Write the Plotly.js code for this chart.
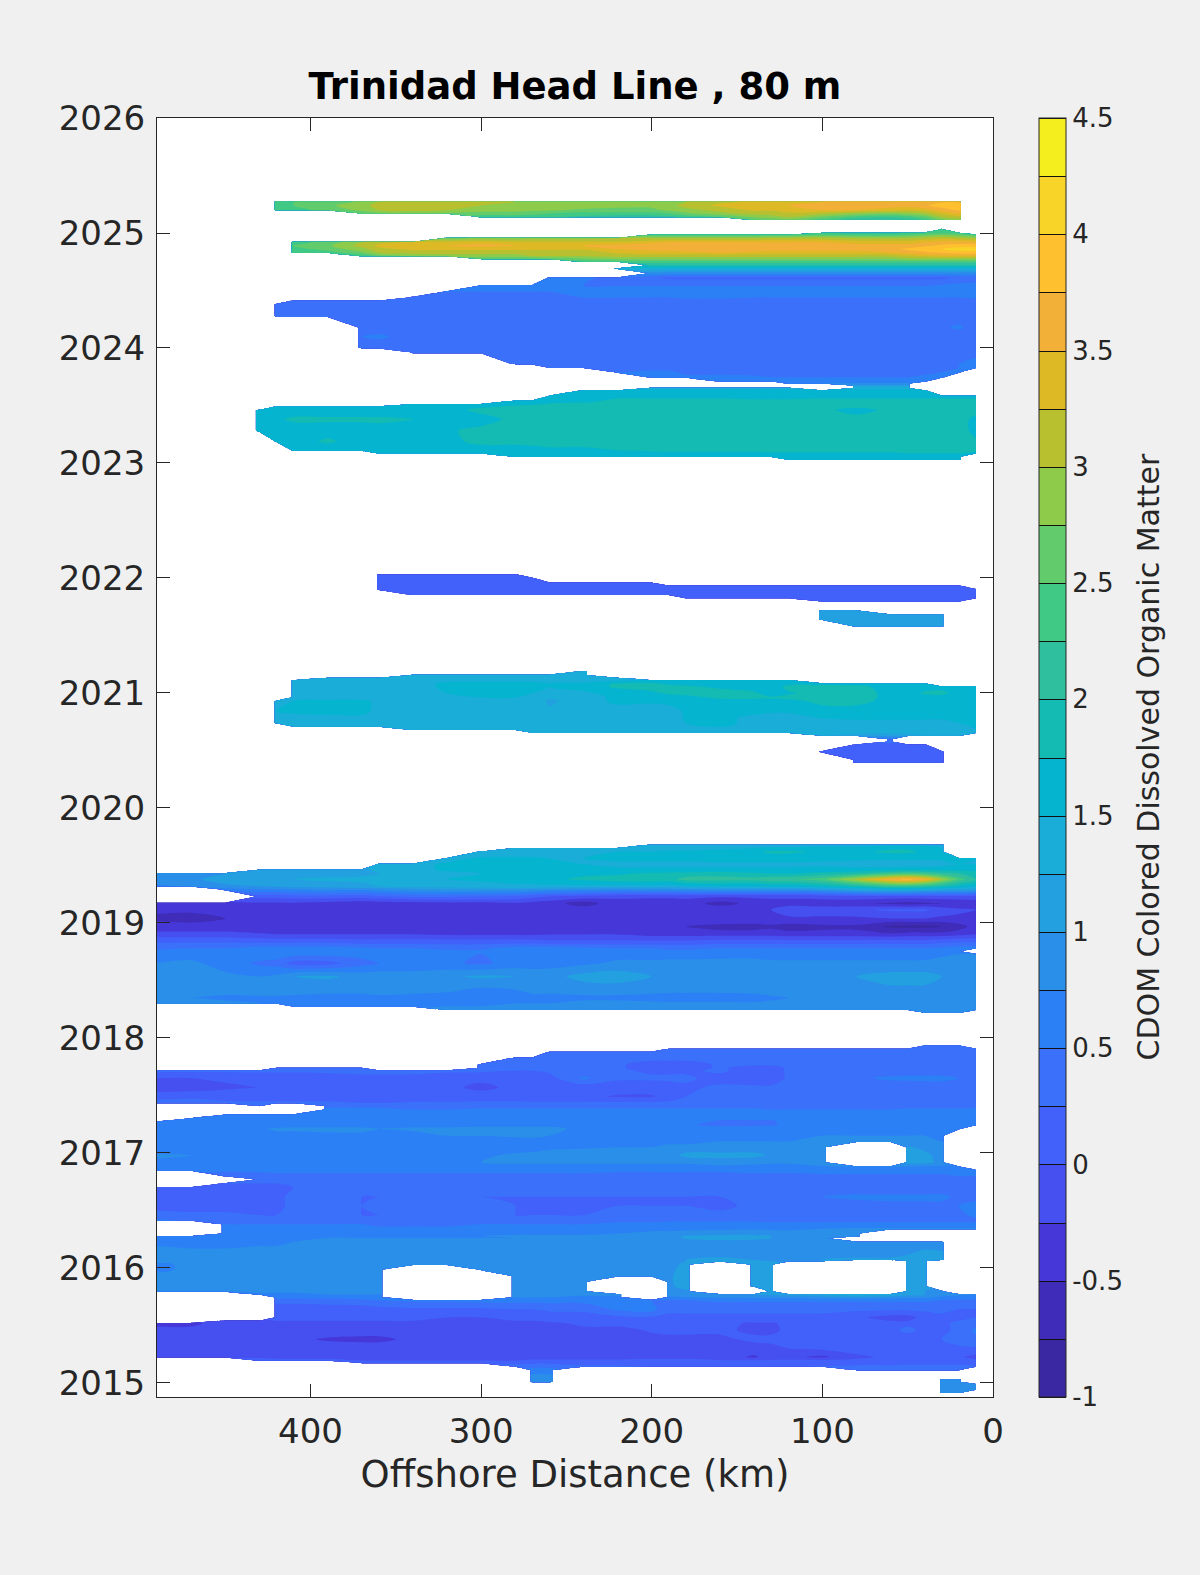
<!DOCTYPE html>
<html><head><meta charset="utf-8">
<script src="https://cdn.plot.ly/plotly-3.0.1.min.js"></script>
<style>html,body{margin:0;padding:0;background:#f0f0f0}</style></head>
<body><div id="chart" style="width:1200px;height:1575px"></div>
<script>
const _ = null;
const titleText = "Trinidad Head Line , 80 m";
const xLabel = "Offshore Distance (km)";
const barLabel = "CDOM Colored Dissolved Organic Matter";
const xTicks = [400,300,200,100,0];
const yTicks = [2015,2016,2017,2018,2019,2020,2021,2022,2023,2024,2025,2026];
const barTicks = [-1,-0.5,0,0.5,1,1.5,2,2.5,3,3.5,4,4.5];
const levelColors = ["#3A27A2","#3F2CB8","#4638D8","#4650F0","#4260FA","#3A70FA","#2C80F5","#2A8FE8","#22A0E0","#1AADD8","#05B4CF","#14BBB2","#2FBF9E","#40C885","#62CC6C","#8ECB4A","#B8C030","#DCB925","#F3B038","#FFC030","#F8D428","#F5EE1E"];
const distance = [490,470,450,430,420,410,390,370, 360,340,320,300,280,270,260,240, 220,200,190,180,160,140,130,120, 100,80,60,50,40,30,20,10];

const yA = [2025.285,2025.272,2025.24,2025.2,2025.17,2025.14,2025.115,2025.1];
const zA = [
[_,_,_,_,_,_,_,_, _,_,_,_,_,_,_,_, _,_,_,_,_,_,_,_, _,_,_,_,_,_,_,_],
[_,_,_,_,2.5,2.5,2.6,2.8, 3,3.1,3.1,3.1,3,2.9,2.8,2.8, 2.8,2.8,2.9,3,3.2,3.3,3.4,3.4, 3.5,3.7,3.7,3.6,3.6,3.7,3.7,_],
[_,_,_,_,2.4,2.5,2.7,2.9, 3.1,3.2,3.2,3,3,3,2.9,2.9, 2.8,2.8,2.9,3.1,3.3,3.4,3.4,3.5, 3.7,3.7,3.6,3.6,3.7,3.9,3.9,_],
[_,_,_,_,2.3,2.4,2.6,2.8, 3,3.1,3,2.9,2.9,2.8,2.8,2.7, 2.7,2.7,2.8,2.9,3.1,3.3,3.3,3.4, 3.5,3.5,3.4,3.3,3.4,3.6,3.8,_],
[_,_,_,_,_,_,_,2.6, 2.7,2.7,2.7,2.6,2.6,2.6,2.5,2.4, 2.4,2.4,2.5,2.7,2.9,3.1,3.1,3.2, 3.1,2.9,2.8,2.9,3,3.3,3.5,_],
[_,_,_,_,_,_,_,_, _,_,_,2.4,2.4,2.3,2.3,2.2, 2.1,2.1,2.2,2.3,2.5,2.8,2.9,3, 2.7,2.4,2.3,2.4,2.6,3,3.2,_],
[_,_,_,_,_,_,_,_, _,_,_,_,_,_,_,_, _,_,_,_,_,2.5,2.6,2.7, 2.4,2.1,2,2.1,2.3,2.7,2.9,_],
[_,_,_,_,_,_,_,_, _,_,_,_,_,_,_,_, _,_,_,_,_,_,_,_, _,_,_,_,_,_,_,_]
];

const yB = [2025.03,2025,2024.985,2024.955,2024.92,2024.89,2024.86,2024.83,2024.8,2024.775,2024.75,2024.72,2024.69,2024.65,2024.61,2024.54,2024.49,2024.44,2024.41,2024.38,2024.28,2024.18,2024.1,2024,2023.965,2023.86,2023.83,2023.79,2023.745,2023.71,2023.69,2023.672,2023.652,2023.63,2023.58,2023.54,2023.51,2023.49,2023.46,2023.38,2023.28,2023.19,2023.11,2023.085,2023.055,2023.03,2023.02];
const zB = [
[_,_,_,_,_,_,_,_, _,_,_,_,_,_,_,_, _,_,_,_,_,_,_,_, _,_,_,_,_,2.3,_,_],
[_,_,_,_,_,_,_,_, _,_,_,_,_,_,_,_, _,_,_,_,_,_,_,_, 2.3,2.2,2.2,2.3,2.4,2.4,2.4,_],
[_,_,_,_,_,_,_,_, _,_,_,_,_,_,_,_, _,2.4,2.4,2.4,2.4,2.4,2.4,2.4, 2.5,2.4,2.4,2.5,2.6,2.7,2.6,2.4],
[_,_,_,_,_,_,_,_, _,_,2.7,2.8,2.8,2.9,2.9,2.9, 3,3,3,3,3,3,3.1,3.1, 3.1,3,3,3,3.1,3.2,3.1,3],
[_,_,_,_,_,2.4,2.6,3, 3.2,3.3,3.3,3.4,3.3,3.3,3.3,3.3, 3.3,3.4,3.5,3.5,3.5,3.5,3.5,3.5, 3.5,3.4,3.4,3.4,3.5,3.6,3.6,3.5],
[_,_,_,_,_,2.5,2.7,3.1, 3.3,3.4,3.5,3.6,3.5,3.4,3.4,3.5, 3.6,3.7,3.7,3.7,3.7,3.7,3.7,3.7, 3.7,3.6,3.6,3.6,3.7,3.8,3.9,3.9],
[_,_,_,_,_,2.4,2.6,2.9, 3.2,3.3,3.3,3.3,3.3,3.3,3.3,3.3, 3.5,3.6,3.6,3.7,3.7,3.7,3.6,3.6, 3.6,3.6,3.7,3.8,3.9,4,4.1,4.1],
[_,_,_,_,_,2.3,2.4,2.7, 3,3.1,3.1,3.1,3.1,3.1,3.1,3.1, 3.3,3.4,3.4,3.4,3.5,3.4,3.4,3.4, 3.4,3.4,3.5,3.6,3.7,3.8,3.9,3.9],
[_,_,_,_,_,_,_,2.3, 2.6,2.8,2.9,2.9,2.9,3,3,3, 3.1,3.1,3.1,3.1,3.1,3.1,3.1,3.1, 3.1,3.1,3.1,3.2,3.3,3.4,3.4,3.4],
[_,_,_,_,_,_,_,_, _,_,_,2.5,2.5,2.5,2.6,2.7, 2.8,2.8,2.8,2.8,2.8,2.8,2.8,2.8, 2.8,2.8,2.8,2.9,2.9,2.9,2.9,2.9],
[_,_,_,_,_,_,_,_, _,_,_,_,_,_,_,2.3, 2.4,2.4,2.4,2.4,2.4,2.4,2.4,2.4, 2.4,2.4,2.4,2.4,2.4,2.4,2.4,2.4],
[_,_,_,_,_,_,_,_, _,_,_,_,_,_,_,_, _,2,2,2,2,2,2,2, 2,2,2,2,2,2,2,2],
[_,_,_,_,_,_,_,_, _,_,_,_,_,_,_,_, 1.4,1.4,1.4,1.4,1.4,1.4,1.4,1.4, 1.4,1.4,1.4,1.4,1.4,1.4,1.4,1.4],
[_,_,_,_,_,_,_,_, _,_,_,_,_,_,_,_, _,.85,.8,.8,.8,.8,.8,.8, .8,.8,.8,.8,.8,.8,.8,.8],
[_,_,_,_,_,_,_,_, _,_,_,_,_,_,.6,.55, .4,.3,.2,.2,.2,.2,.2,.2, .2,.2,.2,.2,.2,.2,.3,.35],
[_,_,_,_,_,_,_,_, _,_,_,.55,.55,.55,.55,.5, .5,.5,.5,.5,.5,.5,.5,.5, .5,.5,.5,.5,.5,.55,.6,.6],
[_,_,_,_,_,_,_,_, _,_,.5,.5,.5,.5,.5,.55, .55,.55,.55,.55,.55,.55,.55,.55, .55,.55,.55,.55,.6,.65,.7,.7],
[_,_,_,_,_,_,_,_, _,.4,.4,.4,.45,.45,.5,.5, .5,.5,.5,.55,.55,.5,.5,.5, .5,.5,.5,.5,.5,.5,.5,.55],
[_,_,_,_,_,.3,.3,.3, .35,.35,.35,.35,.35,.35,.35,.35, .4,.4,.4,.4,.4,.4,.4,.4, .4,.4,.4,.4,.4,.4,.4,.4],
[_,_,_,_,.3,.3,.3,.3, .35,.35,.35,.35,.35,.35,.35,.35, .35,.35,.35,.35,.35,.35,.35,.35, .35,.35,.35,.35,.35,.35,.35,.35],
[_,_,_,_,.35,.35,.35,.35, .35,.35,.35,.35,.35,.35,.35,.35, .35,.35,.35,.35,.35,.35,.35,.35, .35,.35,.35,.35,.35,.35,.35,.35],
[_,_,_,_,_,_,_,.4, .35,.35,.35,.35,.35,.35,.35,.35, .35,.35,.35,.35,.35,.35,.35,.35, .35,.35,.35,.35,.35,.45,.55,.35],
[_,_,_,_,_,_,_,.5, .55,.4,.35,.35,.35,.35,.35,.35, .35,.35,.35,.35,.35,.35,.35,.35, .35,.35,.35,.35,.35,.35,.35,.35],
[_,_,_,_,_,_,_,.4, .35,.35,.35,.35,.35,.35,.35,.35, .35,.35,.35,.35,.35,.35,.35,.35, .35,.35,.35,.35,.35,.35,.35,.35],
[_,_,_,_,_,_,_,_, _,.35,.35,.35,.35,.35,.35,.35, .35,.35,.35,.35,.35,.35,.35,.35, .35,.35,.35,.35,.35,.4,.4,.45],
[_,_,_,_,_,_,_,_, _,_,_,_,.45,.4,.35,.35, .35,.35,.35,.35,.35,.35,.35,.35, .35,.35,.35,.35,.35,.4,.5,.55],
[_,_,_,_,_,_,_,_, _,_,_,_,_,_,.5,.45, .4,.4,.4,.4,.4,.35,.35,.35, .35,.35,.35,.35,.4,.45,.5,.55],
[_,_,_,_,_,_,_,_, _,_,_,_,_,_,_,_, .5,.55,.55,.45,.45,.4,.4,.4, .4,.4,.4,.4,.45,.5,.55,_],
[_,_,_,_,_,_,_,_, _,_,_,_,_,_,_,_, _,.55,.55,.55,.55,.55,.5,.5, .5,.5,.5,.5,.55,.6,_,_],
[_,_,_,_,_,_,_,_, _,_,_,_,_,_,_,_, _,_,_,_,.6,.6,.6,.6, .6,.6,.6,.6,.65,_,_,_],
[_,_,_,_,_,_,_,_, _,_,_,_,_,_,_,_, _,_,_,_,_,_,_,.7, .75,.8,.8,.8,_,_,_,_],
[_,_,_,_,_,_,_,_, _,_,_,_,_,_,_,_, _,_,_,_,_,_,_,_, _,1.1,1.1,1.1,_,_,_,_],
[_,_,_,_,_,_,_,_, _,_,_,_,_,_,_,_, _,1.4,1.4,1.4,1.4,1.4,1.4,1.4, _,1.4,1.4,1.4,_,_,_,_],
[_,_,_,_,_,_,_,_, _,_,_,_,_,_,_,1.5, 1.6,1.6,1.6,1.6,1.6,1.6,1.6,1.6, 1.6,1.6,1.6,1.6,1.6,_,_,_],
[_,_,_,_,_,_,_,_, _,_,_,_,_,_,1.55,1.6, 1.7,1.7,1.7,1.7,1.7,1.65,1.65,1.65, 1.7,1.7,1.7,1.7,1.7,1.7,1.7,1.7],
[_,_,_,_,_,_,_,_, _,_,_,_,1.55,1.6,1.6,1.7, 1.8,1.8,1.8,1.8,1.8,1.8,1.8,1.8, 1.8,1.8,1.8,1.8,1.8,1.8,1.8,1.8],
[_,_,_,_,_,_,_,_, _,1.55,1.55,1.6,1.7,1.7,1.8,1.8, 1.85,1.85,1.85,1.85,1.85,1.85,1.85,1.85, 1.85,1.85,1.85,1.85,1.85,1.85,1.9,1.9],
[_,_,_,_,1.55,1.55,1.55,1.55, 1.55,1.6,1.6,1.7,1.8,1.85,1.85,1.85, 1.85,1.85,1.85,1.85,1.85,1.85,1.85,1.85, 1.85,1.85,1.9,1.9,1.9,1.9,1.9,1.9],
[_,_,_,1.55,1.55,1.6,1.6,1.6, 1.6,1.6,1.6,1.85,1.85,1.85,1.85,1.85, 1.9,1.9,1.9,1.9,1.9,1.9,1.9,1.9, 1.85,1.6,1.85,1.9,1.9,1.9,2,1.9],
[_,_,_,1.6,1.7,1.8,1.8,1.8, 1.8,1.75,1.6,1.6,1.85,1.85,1.85,1.85, 1.9,1.9,1.9,1.9,1.9,1.9,1.9,1.9, 1.9,1.9,1.9,1.9,1.9,1.9,1.9,1.65],
[_,_,_,1.6,1.6,1.6,1.6,1.6, 1.65,1.65,1.7,1.85,1.85,1.9,1.9,1.9, 1.9,1.9,1.9,1.9,1.9,1.9,1.9,1.9, 1.9,1.9,1.9,1.9,1.9,1.9,1.9,1.65],
[_,_,_,_,1.6,1.6,1.8,1.6, 1.6,1.6,1.65,1.85,1.85,1.85,1.85,1.85, 1.85,1.85,1.9,1.9,1.9,1.9,1.9,1.9, 1.9,1.9,1.9,1.9,1.9,1.9,1.9,1.8],
[_,_,_,_,_,1.6,1.6,1.6, 1.6,1.6,1.6,1.6,1.6,1.65,1.7,1.7, 1.75,1.8,1.8,1.8,1.8,1.8,1.85,1.85, 1.85,1.85,1.85,1.85,1.85,1.85,1.85,1.8],
[_,_,_,_,_,_,_,_, 1.6,1.6,1.6,1.6,1.6,1.6,1.65,1.65, 1.65,1.65,1.7,1.7,1.7,1.7,1.7,1.7, 1.7,1.7,1.7,1.75,1.75,1.75,1.75,1.7],
[_,_,_,_,_,_,_,_, _,_,_,_,1.6,1.6,1.6,1.6, 1.6,1.6,1.6,1.6,1.6,1.6,1.6,1.6, 1.6,1.6,1.6,1.6,1.6,1.6,1.6,_],
[_,_,_,_,_,_,_,_, _,_,_,_,_,_,_,_, _,_,_,_,_,_,_,1.6, 1.6,1.6,1.6,1.6,1.6,1.6,1.6,_],
[_,_,_,_,_,_,_,_, _,_,_,_,_,_,_,_, _,_,_,_,_,_,_,_, _,_,_,_,_,_,_,_]
];

const yC = [2022.04,2022.03,2022,2021.957,2021.933,2021.9,2021.855,2021.826,2021.797,2021.76,2021.715,2021.68,2021.64,2021.58,2021.57];
const zC = [
[_,_,_,_,_,_,_,_, _,_,_,_,_,_,_,_, _,_,_,_,_,_,_,_, _,_,_,_,_,_,_,_],
[_,_,_,_,_,_,_,_, .05,.05,.05,.05,.05,_,_,_, _,_,_,_,_,_,_,_, _,_,_,_,_,_,_,_],
[_,_,_,_,_,_,_,_, .05,.05,.05,.05,.05,.05,_,_, _,_,_,_,_,_,_,_, _,_,_,_,_,_,_,_],
[_,_,_,_,_,_,_,_, .05,.05,.05,.05,.05,.05,.05,.05, .05,.05,_,_,_,_,_,_, _,_,_,_,_,_,_,_],
[_,_,_,_,_,_,_,_, .05,.05,.05,.05,.05,.05,.05,.05, .05,.05,.05,.05,.05,.05,.05,.05, .05,.05,.05,.05,.05,.05,.05,_],
[_,_,_,_,_,_,_,_, .05,.05,.05,.05,.05,.05,.05,.05, .05,.05,.05,.05,.05,.05,.05,.05, .05,.1,.1,.05,.05,.05,.05,.05],
[_,_,_,_,_,_,_,_, _,.05,.05,.05,.05,.05,.05,.05, .05,.05,.05,.05,.05,.05,.05,.05, .05,.1,.1,.05,.05,.05,.05,.05],
[_,_,_,_,_,_,_,_, _,_,_,_,_,_,_,_, _,_,_,.05,.05,.05,.05,.05, .05,.05,.05,.05,.05,.05,.05,.05],
[_,_,_,_,_,_,_,_, _,_,_,_,_,_,_,_, _,_,_,_,_,_,_,_, .05,.05,.05,.05,.05,.05,.05,_],
[_,_,_,_,_,_,_,_, _,_,_,_,_,_,_,_, _,_,_,_,_,_,_,_, _,_,_,_,_,_,_,_],
[_,_,_,_,_,_,_,_, _,_,_,_,_,_,_,_, _,_,_,_,_,_,_,_, 1.15,1.15,_,_,_,_,_,_],
[_,_,_,_,_,_,_,_, _,_,_,_,_,_,_,_, _,_,_,_,_,_,_,_, 1.15,1.15,1.15,1.15,1.15,1.15,_,_],
[_,_,_,_,_,_,_,_, _,_,_,_,_,_,_,_, _,_,_,_,_,_,_,_, 1.15,1.15,1.15,1.15,1.15,1.15,_,_],
[_,_,_,_,_,_,_,_, _,_,_,_,_,_,_,_, _,_,_,_,_,_,_,_, _,1.15,1.15,1.15,1.15,1.15,_,_],
[_,_,_,_,_,_,_,_, _,_,_,_,_,_,_,_, _,_,_,_,_,_,_,_, _,_,_,_,_,_,_,_]
];

const yD = [2021.2,2021.188,2021.155,2021.13,2021.11,2021.08,2021.055,2021,2020.96,2020.93,2020.84,2020.78,2020.74,2020.71,2020.68,2020.655,2020.63,2020.6,2020.575,2020.55,2020.49,2020.42,2020.395,2020.38];
const zD = [
[_,_,_,_,_,_,_,_, _,_,_,_,_,_,_,_, _,_,_,_,_,_,_,_, _,_,_,_,_,_,_,_],
[_,_,_,_,_,_,_,_, _,_,_,_,_,_,_,1.3, _,_,_,_,_,_,_,_, _,_,_,_,_,_,_,_],
[_,_,_,_,_,_,_,_, _,1.3,1.3,1.3,1.3,1.3,1.3,1.3, _,_,_,_,_,_,_,_, _,_,_,_,_,_,_,_],
[_,_,_,_,_,_,1.3,1.3, 1.3,1.35,1.35,1.35,1.35,1.35,1.35,1.35, 1.35,_,_,_,_,_,_,_, _,_,_,_,_,_,_,_],
[_,_,_,_,_,1.3,1.3,1.3, 1.3,1.4,1.45,1.45,1.45,1.45,1.4,1.4, 1.45,1.55,1.55,1.55,1.55,1.55,1.55,1.55, _,_,_,_,_,_,_,_],
[_,_,_,_,_,1.3,1.3,1.3, 1.3,1.4,1.55,1.6,1.6,1.55,1.5,1.55, 1.8,1.8,1.7,1.65,1.65,1.6,1.6,1.65, 1.65,1.6,1.6,1.6,1.6,_,_,_],
[_,_,_,_,_,1.35,1.35,1.35, 1.35,1.4,1.55,1.6,1.6,1.55,1.5,1.6, 1.8,1.85,1.85,1.8,1.7,1.6,1.55,1.85, 1.9,1.85,1.6,1.6,1.6,1.6,1.6,1.6],
[_,_,_,_,_,1.35,1.35,1.35, 1.35,1.4,1.5,1.55,1.6,1.5,1.4,1.45, 1.6,1.7,1.8,1.85,1.85,1.8,1.55,1.7, 1.9,1.9,1.65,1.6,1.8,1.85,1.6,1.6],
[_,_,_,_,_,1.4,1.4,1.4, 1.4,1.4,1.45,1.5,1.5,1.4,1.3,1.4, 1.55,1.6,1.6,1.65,1.8,1.85,1.8,1.85, 1.9,1.9,1.65,1.6,1.6,1.6,1.6,1.6],
[_,_,_,_,1.4,1.5,1.55,1.55, 1.45,1.4,1.4,1.45,1.5,1.45,1.2,1.4, 1.55,1.55,1.6,1.65,1.65,1.6,1.6,1.65, 1.85,1.85,1.65,1.6,1.6,1.6,1.6,1.6],
[_,_,_,_,1.5,1.55,1.6,1.6, 1.4,1.4,1.4,1.4,1.45,1.4,1.3,1.35, 1.4,1.35,1.35,1.55,1.55,1.55,1.55,1.55, 1.6,1.6,1.6,1.6,1.6,1.6,1.6,1.6],
[_,_,_,_,1.4,1.4,1.4,1.4, 1.4,1.35,1.35,1.35,1.35,1.3,1.3,1.3, 1.3,1.25,1.25,1.55,1.55,1.45,1.35,1.35, 1.5,1.55,1.55,1.55,1.55,1.55,1.6,1.6],
[_,_,_,_,1.3,1.3,1.3,1.3, 1.3,1.3,1.3,1.3,1.3,1.3,1.3,1.3, 1.3,1.3,1.3,1.5,1.6,1.4,1.3,1.3, 1.35,1.4,1.4,1.4,1.35,1.35,1.5,1.6],
[_,_,_,_,_,1.3,1.3,1.3, 1.3,1.3,1.3,1.3,1.3,1.3,1.3,1.3, 1.3,1.3,1.3,1.45,1.55,1.35,1.3,1.3, 1.3,1.3,1.3,1.3,1.3,1.3,1.4,1.55],
[_,_,_,_,_,_,_,_, _,1.3,1.3,1.3,1.3,1.3,1.3,1.3, 1.3,1.3,1.3,1.3,1.3,1.3,1.3,1.3, 1.3,1.3,1.3,1.3,1.3,1.3,1.4,1.5],
[_,_,_,_,_,_,_,_, _,_,_,_,_,1.3,1.3,1.3, 1.3,1.3,1.3,1.3,1.3,1.3,1.3,1.3, 1.3,1.3,1.3,1.3,1.3,1.3,1.3,1.4],
[_,_,_,_,_,_,_,_, _,_,_,_,_,_,_,_, _,_,_,_,_,_,_,_, 1.25,1.2,1.1,1.2,1.25,1.25,1.25,_],
[_,_,_,_,_,_,_,_, _,_,_,_,_,_,_,_, _,_,_,_,_,_,_,_, _,_,.5,_,_,_,_,_],
[_,_,_,_,_,_,_,_, _,_,_,_,_,_,_,_, _,_,_,_,_,_,_,_, _,_,.4,_,_,_,_,_],
[_,_,_,_,_,_,_,_, _,_,_,_,_,_,_,_, _,_,_,_,_,_,_,_, _,.1,.1,.1,.1,_,_,_],
[_,_,_,_,_,_,_,_, _,_,_,_,_,_,_,_, _,_,_,_,_,_,_,_, .1,.05,.05,.05,.05,.1,_,_],
[_,_,_,_,_,_,_,_, _,_,_,_,_,_,_,_, _,_,_,_,_,_,_,_, _,.05,.05,.05,.05,.1,_,_],
[_,_,_,_,_,_,_,_, _,_,_,_,_,_,_,_, _,_,_,_,_,_,_,_, _,.05,.05,.05,.1,.1,_,_],
[_,_,_,_,_,_,_,_, _,_,_,_,_,_,_,_, _,_,_,_,_,_,_,_, _,_,_,_,_,_,_,_]
];

const yE = [2019.69,2019.68,2019.65,2019.62,2019.56,2019.51,2019.46,2019.43,2019.38,2019.32,2019.29,2019.23,2019.17,2019.115,2019.04,2018.97,2018.91,2018.84,2018.78,2018.755,2018.73,2018.65,2018.535,2018.42,2018.35,2018.3,2018.275,2018.245,2018.22,2018.21];
const zE = [
[_,_,_,_,_,_,_,_, _,_,_,_,_,_,_,_, _,_,_,_,_,_,_,_, _,_,_,_,_,_,_,_],
[_,_,_,_,_,_,_,_, _,_,_,_,_,_,_,_, _,1.3,1.3,1.3,1.3,1.35,1.4,1.4, 1.4,1.4,1.45,1.45,1.4,1.3,_,_],
[_,_,_,_,_,_,_,_, _,_,_,_,1.3,1.3,1.3,1.35, 1.4,1.4,1.4,1.4,1.45,1.5,1.55,1.55, 1.6,1.6,1.7,1.7,1.7,1.5,_,_],
[_,_,_,_,_,_,_,_, _,_,_,1.3,1.35,1.35,1.4,1.4, 1.5,1.5,1.55,1.55,1.6,1.7,1.8,1.8, 1.7,1.7,1.8,1.8,1.7,1.5,_,_],
[_,_,_,_,_,_,_,_, _,_,1.4,1.55,1.55,1.55,1.5,1.5, 1.55,1.55,1.55,1.55,1.6,1.6,1.6,1.6, 1.55,1.55,1.55,1.55,1.55,1.55,1.55,1.5],
[_,_,_,_,_,_,_,_, 1.3,1.4,1.55,1.6,1.6,1.6,1.6,1.5, 1.45,1.45,1.45,1.45,1.45,1.45,1.45,1.45, 1.45,1.4,1.35,1.35,1.35,1.4,1.5,1.5],
[_,_,_,1.1,1.15,1.15,1.15,1.2, 1.3,1.4,1.55,1.6,1.6,1.6,1.6,1.6, 1.55,1.55,1.55,1.55,1.55,1.55,1.55,1.55, 1.6,1.6,1.65,1.7,1.7,1.7,1.7,1.7],
[1,1,1,1.05,1.1,1.15,1.15,1.2, 1.25,1.3,1.4,1.5,1.55,1.55,1.6,1.7, 1.7,1.8,1.85,1.85,1.9,1.8,1.75,1.75, 1.85,2,2.3,2.4,2.3,2.1,2,1.9],
[.9,.95,1.1,1.15,1.2,1.25,1.3,1.3, 1.35,1.45,1.5,1.55,1.6,1.6,1.7,1.8, 1.9,1.9,1.9,2.1,2.1,2.1,2.2,2.2, 2.4,3.1,3.7,3.85,3.6,3,2.4,2],
[.7,.8,.95,1,1.05,1.1,1.15,1.2, 1.25,1.35,1.35,1.4,1.45,1.45,1.45,1.45, 1.4,1.45,1.4,1.5,1.55,1.55,1.6,1.6, 1.7,1.9,2.2,2.2,2.1,1.9,1.7,1.6],
[_,_,.6,.7,.7,.75,.8,.8, .85,.95,1,1,1,.95,.9,.85, .8,.85,.85,.9,.95,.95,.95,.95, 1.05,1.25,1.4,1.4,1.3,1.2,1.2,1.1],
[_,_,_,.1,.1,.15,.15,.1, .2,.3,.3,.25,.2,.1,0,-.1, -.2,-.2,-.2,-.2,-.2,-.2,-.2,-.2, -.15,-.1,-.1,-.1,-.1,-.1,-.1,-.1],
[-.3,-.35,-.35,-.3,-.3,-.3,-.35,-.4, -.4,-.4,-.35,-.35,-.3,-.35,-.4,-.62, -.35,-.4,-.4,-.35,-.62,-.4,-.35,-.35, -.4,-.45,-.55,-.6,-.55,-.5,-.45,-.4],
[-.45,-.45,-.45,-.4,-.4,-.4,-.4,-.45, -.45,-.45,-.45,-.45,-.45,-.45,-.45,-.35, -.3,-.3,-.3,-.3,-.3,-.3,-.25,-.1, -.1,-.05,.05,.05,.05,-.1,-.2,-.25],
[-.55,-.6,-.5,-.45,-.45,-.45,-.45,-.45, -.45,-.45,-.45,-.45,-.45,-.45,-.45,-.45, -.35,-.25,-.25,-.25,-.25,-.3,-.3,-.3, -.3,-.3,-.25,-.25,-.25,-.3,-.3,-.3],
[-.4,-.4,-.4,-.4,-.4,-.45,-.45,-.45, -.45,-.45,-.45,-.45,-.45,-.45,-.45,-.45, -.4,-.45,-.45,-.5,-.6,-.6,-.55,-.6, -.55,-.55,-.8,-.82,-.82,-.75,-.6,-.4],
[-.2,-.2,-.2,-.25,-.3,-.3,-.3,-.3, -.3,-.3,-.35,-.35,-.35,-.35,-.3,-.3, -.3,-.4,-.4,-.4,-.4,-.4,-.4,-.45, -.45,-.45,-.5,-.45,-.45,-.45,-.4,-.3],
[.2,.2,.2,.15,.15,.15,.15,.1, .1,.1,.1,.1,.1,.1,.05,.05, .05,.05,.05,.05,.1,.1,.1,.1, .1,.1,.1,.1,.1,.15,.2,.2],
[.45,.5,.5,.6,.6,.6,.6,.55, .5,.5,.45,.45,.6,.6,.6,.55, .5,.5,.45,.45,.5,.5,.5,.5, .5,.5,.5,.5,.5,.55,.6,.65],
[.55,.6,.6,.75,.75,.75,.75,.7, .6,.6,.55,.55,.75,.75,.75,.7, .6,.6,.55,.55,.6,.6,.6,.6, .6,.6,.6,.6,.6,.7,.75,_],
[.6,.65,.6,.65,.65,.6,.6,.6, .55,.6,.55,.5,.7,.7,.7,.7, .65,.65,.6,.6,.65,.65,.65,.65, .65,.65,.65,.65,.65,.7,.75,.75],
[.75,.8,.65,.45,.4,.15,.15,.4, .5,.6,.55,.45,.6,.6,.65,.7, .8,.8,.85,.85,.85,.85,.8,.8, .8,.8,.8,.8,.8,.85,.85,.8],
[.95,.9,.8,.75,.8,1,1.05,.9, .9,.85,.95,1.05,1,.95,.9,1.1, 1.15,1,.9,.9,.9,1,1,.95, .95,1,1.1,1.1,1.1,1,.95,.9],
[.8,.85,.85,.9,.9,.85,.8,.8, .85,.85,.8,.7,.75,.8,.8,.85, .85,.85,.85,.85,.85,.9,.9,.9, .9,.95,.95,.95,.95,.9,.9,.85],
[.75,.75,.7,.7,.7,.7,.7,.7, .7,.65,.65,.6,.55,.7,.7,.7, .7,.65,.6,.6,.6,.6,.7,.75, .8,.8,.8,.8,.8,.8,.8,.8],
[.8,.8,.8,.75,.75,.75,.75,.75, .75,.75,.75,.75,.75,.75,.75,.8, .8,.8,.8,.8,.8,.8,.8,.8, .8,.8,.8,.8,.8,.8,.8,.8],
[_,_,_,_,_,.75,.75,.75, .75,.75,.75,.75,.8,.8,.8,.8, .8,.8,.8,.8,.8,.8,.8,.8, .8,.8,.8,.8,.8,.8,.8,.8],
[_,_,_,_,_,_,_,_, _,_,.8,.8,.8,.8,.8,.8, .8,.8,.8,.8,.8,.8,.8,.8, .8,.8,.8,.8,.8,.8,.8,.8],
[_,_,_,_,_,_,_,_, _,_,_,_,_,_,_,_, _,_,_,_,_,_,_,_, _,_,_,_,.8,.8,.8,_],
[_,_,_,_,_,_,_,_, _,_,_,_,_,_,_,_, _,_,_,_,_,_,_,_, _,_,_,_,_,_,_,_]
];

const yF = [2017.945,2017.933,2017.904,2017.878,2017.826,2017.768,2017.739,2017.716,2017.65,2017.57,2017.49,2017.435,2017.41,2017.377,2017.33,2017.3,2017.27,2017.245,2017.21,2017.15,2017.1,2017.05,2016.98,2016.92,2016.88,2016.85,2016.8,2016.77,2016.735,2016.7,2016.62,2016.54,2016.46,2016.414,2016.38,2016.34,2016.3,2016.275,2016.26,2016.225,2016.19,2016.13,2016.07,2016.06,2016.03,2015.986,2015.93,2015.88,2015.84,2015.797,2015.77,2015.745,2015.72,2015.64,2015.57,2015.54,2015.52,2015.46,2015.38,2015.3,2015.225,2015.195,2015.175,2015.145,2015.115,2015.06,2015.03,2015.008,2014.99,2014.945,2014.915,2014.9];
const zF = [
[_,_,_,_,_,_,_,_, _,_,_,_,_,_,_,_, _,_,_,_,_,_,_,_, _,_,_,_,_,_,_,_],
[_,_,_,_,_,_,_,_, _,_,_,_,_,_,_,_, _,_,_,_,_,_,_,_, _,_,_,_,.5,.5,.5,_],
[_,_,_,_,_,_,_,_, _,_,_,_,_,_,_,_, _,_,.45,.45,.45,.45,.45,.45, .45,.45,.45,.45,.5,.5,.5,.5],
[_,_,_,_,_,_,_,_, _,_,_,_,_,_,.45,.4, .4,.4,.4,.4,.4,.4,.4,.4, .4,.4,.4,.4,.45,.45,.45,.45],
[_,_,_,_,_,_,_,_, _,_,_,_,.4,.4,.4,.4, .35,.35,.35,.35,.35,.3,.3,.35, .35,.35,.35,.35,.35,.35,.35,.35],
[_,_,_,_,_,_,_,_, _,_,_,.4,.35,.35,.35,.35, .3,.1,.1,.1,.3,.3,.3,.3, .35,.35,.35,.35,.35,.35,.35,.35],
[_,_,_,_,.4,.4,.4,.4, _,_,_,.3,.3,.3,.3,.3, .3,.1,.1,.1,.3,.1,.1,.3, .35,.35,.35,.35,.35,.35,.35,.35],
[.3,.3,.3,.3,.3,.3,.3,.3, .3,.3,.3,.3,.25,.25,.3,.3, .3,.2,.2,.2,.3,.1,.1,.3, .35,.35,.35,.4,.4,.4,.4,.4],
[0,0,.05,.1,.1,.1,.15,.2, .2,.2,.1,.05,.05,.1,.15,.55, .3,.3,.3,.3,.15,.1,.1,.3, .35,.45,.55,.55,.55,.55,.5,.5],
[-.15,-.15,-.05,0,0,0,.05,.05, .05,.05,.05,-.05,.05,.05,.05,.1, .1,.1,.15,.2,.3,.3,.3,.35, .35,.35,.35,.35,.4,.4,.45,.45],
[.15,.2,.15,.1,.1,.1,.1,.05, .05,0,.05,.1,.1,.05,.05,.05, -.02,-.02,.1,.25,.3,.3,.3,.3, .3,.3,.3,.3,.35,.35,.35,.35],
[.35,.35,.3,.3,.3,.3,.3,.25, .25,.3,.3,.3,.3,.3,.3,.3, .3,.3,.3,.3,.3,.3,.3,.3, .3,.3,.3,.3,.35,.35,.35,.35],
[_,_,_,.4,_,_,.45,.45, .45,.4,.4,.4,.4,.4,.4,.4, .4,.4,.4,.4,.4,.4,.4,.4, .4,.4,.4,.4,.4,.4,.4,.45],
[_,_,_,_,_,_,.55,.55, .55,.5,.5,.55,.55,.55,.55,.55, .55,.55,.55,.55,.55,.55,.5,.5, .5,.5,.5,.55,.55,.55,.55,.55],
[_,_,.55,.55,.55,.55,.55,.55, .55,.6,.6,.65,.65,.65,.65,.65, .65,.65,.65,.65,.6,.6,.6,.6, .6,.6,.6,.6,.6,.6,.6,.6],
[_,.55,.55,.55,.55,.55,.55,.55, .6,.6,.6,.65,.65,.65,.65,.65, .65,.65,.65,.65,.55,.55,.55,.6, .6,.6,.6,.6,.6,.6,.6,.6],
[.6,.6,.6,.6,.6,.6,.6,.6, .6,.6,.6,.65,.65,.65,.65,.65, .65,.65,.65,.6,.45,.45,.45,.6, .6,.65,.65,.65,.65,.65,.65,.65],
[.6,.55,.55,.6,.6,.65,.65,.65, .65,.65,.65,.7,.7,.7,.7,.7, .7,.7,.7,.55,.4,.4,.45,.6, .65,.7,.7,.7,.7,.7,.7,.7],
[.6,.6,.6,.7,.8,.8,.8,.8, .75,.8,.8,.8,.8,.8,.8,.7, .6,.6,.65,.7,.7,.7,.7,.7, .7,.7,.7,.7,.7,.7,.7,_],
[.6,.6,.6,.65,.65,.65,.7,.7, .75,.65,.75,.75,.8,.8,.75,.55, .65,.7,.55,.55,.7,.7,.7,.7, .75,.75,.75,.75,.75,.75,_,_],
[.55,.55,.55,.55,.55,.5,.6,.55, .6,.6,.55,.6,.6,.65,.6,.7, .7,.7,.7,.7,.75,.75,.75,.75, .8,.85,.85,.85,.8,.75,_,_],
[.55,.6,.55,.5,.6,.65,.6,.6, .55,.6,.55,.6,.6,.6,.7,.7, .75,.75,.8,.8,.8,.8,.8,.8, .9,_,_,1,.9,.8,_,_],
[.8,.75,.75,.75,.65,.65,.55,.65, .65,.6,.6,.7,.8,.85,.85,.95, 1,.85,.85,1.1,1.1,1.1,.95,.85, 1,_,_,1.1,1.1,.85,_,_],
[.7,.7,.7,.7,.7,.7,.7,.7, .7,.7,.75,.75,.8,.8,.8,.8, .8,.8,.8,.8,.85,.8,.8,.8, 1,_,_,1.1,1.1,.9,_,_],
[.6,.65,.65,.65,.65,.65,.65,.65, .65,.65,.65,.65,.65,.65,.65,.65, .65,.65,.65,.65,.7,.7,.65,.65, .7,.75,.75,.75,.7,.7,.7,_],
[.55,.55,.55,.55,.55,.55,.55,.55, .55,.55,.55,.55,.55,.55,.55,.55, .55,.55,.55,.55,.55,.55,.55,.55, .6,.6,.6,.6,.6,.6,.6,.6],
[_,_,.35,.4,.45,.45,.45,.45, .45,.45,.45,.45,.45,.45,.45,.45, .4,.4,.4,.4,.4,.45,.45,.45, .45,.45,.45,.45,.45,.45,.5,.5],
[_,_,_,.35,.35,.35,.35,.35, .35,.35,.35,.35,.35,.35,.35,.35, .3,.3,.3,.3,.3,.35,.4,.4, .4,.4,.4,.4,.4,.4,.45,.45],
[_,_,.25,.25,.25,.3,.3,.3, .3,.3,.3,.3,.3,.3,.3,.3, .3,.3,.3,.3,.3,.35,.4,.4, .4,.4,.4,.4,.4,.4,.4,.4],
[.1,.1,.2,.25,.25,.25,.3,.3, .3,.3,.3,.3,.3,.3,.3,.3, .3,.3,.3,.3,.3,.3,.35,.35, .35,.35,.35,.35,.35,.35,.4,.4],
[0,0,.05,.15,.2,.3,.3,.25, .25,.25,.25,.25,.25,.25,.25,.25, .25,.25,.25,.25,.25,.3,.35,.35, .5,.55,.55,.55,.55,.55,.45,.4],
[.15,.15,.15,.2,.2,.3,.3,.25, .3,.3,.3,.3,.25,.25,.25,.25, .25,.25,.25,.25,.2,.3,.35,.4, .4,.4,.45,.45,.45,.45,.5,.6],
[.35,.3,.3,.25,.25,.3,.3,.25, .25,.25,.3,.3,.25,.25,.25,.25, .3,.3,.3,.3,.3,.3,.3,.3, .3,.35,.35,.35,.35,.35,.45,.55],
[.55,.45,.45,.45,.45,.45,.4,.4, .35,.35,.35,.4,.4,.4,.45,.45, .45,.45,.45,.45,.45,.45,.45,.45, .45,.45,.45,.45,.45,.45,.45,.45],
[_,_,.5,.5,.5,.5,.5,.5, .45,.45,.45,.5,.5,.5,.5,.5, .55,.55,.6,.6,.6,.6,.55,.55, .55,.55,.55,.55,.55,.55,.55,.55],
[_,_,.6,.6,.6,.6,.6,.6, .55,.55,.55,.6,.6,.6,.6,.6, .65,.7,.7,.7,.7,.7,.7,.7, .75,.8,.8,.8,.8,.8,.8,.8],
[_,_,.7,.7,.7,.7,.7,.7, .65,.65,.65,.7,.7,.7,.7,.7, .75,.8,.8,.85,.9,.95,.9,.85, .85,.9,_,_,_,_,_,_],
[.75,.7,.6,.6,.6,.7,.75,.75, .75,.75,.75,.75,.8,.8,.8,.8, .8,.8,.85,1.05,1.1,1.05,1,.95, .95,1,_,_,_,_,_,_],
[.7,.65,.55,.55,.6,.7,.75,.75, .75,.75,.75,.75,.75,.8,.8,.8, .8,.8,.85,1.05,1.15,1.1,1,.95, 1,_,_,_,_,_,_,_],
[.65,.55,.55,.6,.7,.75,.8,.8, .8,.8,.8,.8,.8,.8,.8,.8, .8,.8,.8,.8,.85,.85,.9,.9, .9,.95,.9,.9,.9,.9,_,_],
[.75,.7,.7,.75,.75,.8,.8,.8, .8,.8,.8,.8,.8,.8,.8,.8, .8,.8,.8,.8,.8,.8,.85,.9, .9,.85,.85,.9,.9,.9,_,_],
[.85,.85,.85,.85,.85,.85,.85,.85, .85,.85,.85,.85,.85,.85,.85,.85, .85,.85,.85,.85,.85,.85,.85,.9, .95,.9,.9,.95,1.1,1.05,_,_],
[.85,.85,.85,.85,.85,.85,.85,.85, .85,.85,.85,.85,.85,.85,.85,.85, .85,.85,.85,1,1.1,1,.95,.95, 1,1.05,1.05,1.15,1.15,1.05,_,_],
[.85,.85,.85,.85,.85,.85,.85,.85, .85,.85,.85,.85,.85,.85,.85,.85, .85,.85,.85,1,1.15,1.05,1,.95, 1,_,_,1.2,1.15,_,_,_],
[.7,.8,.85,.85,.85,.85,.85,.85, .85,.85,.85,.85,.85,.85,.85,.85, .85,.85,.85,1.1,_,1.1,1.05,_, _,_,_,1.2,1.15,_,_,_],
[.7,.8,.85,.85,.85,.85,.85,.85, .85,_,_,.9,.85,.85,.85,.85, .85,.85,.9,1.15,_,1.1,1.05,_, _,_,_,1.2,1.15,_,_,_],
[.8,.85,.85,.85,.85,.8,.75,.85, .85,_,_,_,.9,.85,.85,.85, .85,.9,.95,1.15,_,1.05,1,_, _,_,_,1.2,1.15,_,_,_],
[.85,.85,.85,.85,.85,.85,.85,.85, .9,_,_,_,.9,.85,.85,.85, _,_,.95,1.15,_,1.05,1.05,_, _,_,_,1.2,1.15,_,_,_],
[.85,.85,.85,.85,.85,.85,.85,.85, .9,_,_,_,.9,.85,.85,.85, _,_,.95,1.1,_,1.05,1.05,_, _,_,_,1.15,1.1,_,_,_],
[.75,.75,.75,.8,.8,.8,.8,.8, .8,_,_,_,.8,.8,.8,.8, _,_,.85,.95,_,_,1.05,_, _,_,_,1.1,1,.85,_,_],
[_,_,_,.7,.7,.7,.75,.75, .75,_,_,_,.8,.8,.8,.8, .8,_,.85,.9,.9,1,1.05,1.1, 1.25,1.4,1.3,1.1,1,.85,.8,.75],
[_,_,_,_,.6,.6,.6,.65, .65,_,_,_,.75,.75,.75,.7, .7,_,.7,.75,.8,.85,.85,.85, .9,.95,.9,.85,.8,.7,.65,.65],
[_,_,_,_,.35,.35,.4,.45, .5,.55,.55,.6,.6,.6,.6,.6, .55,.5,.5,.5,.55,.55,.55,.55, .55,.55,.55,.55,.55,.5,.45,.45],
[_,_,_,_,.1,.1,.1,.1, .15,.2,.2,.2,.25,.25,.3,.3, .55,.6,.3,.3,.3,.3,.3,.3, .3,.3,.3,.3,.3,.3,.25,.25],
[_,_,_,_,.05,.05,.05,.05, .05,.05,0,0,.05,.05,.1,.15, .2,.2,.2,.2,.2,.2,.2,.2, .2,.05,-.1,-.1,.1,.2,.2,.25],
[_,_,-.1,-.1,0,0,0,0, 0,0,0,0,0,0,.05,.1, .1,.15,.15,.15,.2,.15,.15,.2, .2,.1,0,0,.15,.2,.25,.3],
[-.3,-.3,-.15,-.05,-.05,-.05,-.05,-.05, -.05,-.05,-.05,-.05,-.05,-.05,-.05,.05, .05,.1,.1,.1,.1,-.05,-.05,.1, .15,.2,.2,.2,.2,.2,.3,.4],
[-.2,-.2,-.1,-.05,-.05,-.05,-.05,-.05, -.05,-.05,-.05,-.05,-.05,-.05,-.05,-.05, -.05,.02,.1,.1,.05,-.05,-.05,.05, .05,.2,.2,.3,.2,.2,.3,.55],
[-.05,-.05,-.05,-.05,-.1,-.15,-.3,-.35, -.35,-.15,-.05,-.05,-.05,-.05,-.05,-.05, -.05,-.05,-.1,-.1,-.05,.05,.05,.05, .1,.15,.15,.15,.2,.25,.35,.45],
[-.05,-.05,-.05,-.05,-.05,-.05,-.05,-.05, -.05,-.05,-.05,-.05,-.05,-.05,-.05,-.05, -.05,-.05,-.05,-.05,-.1,-.1,-.05,0, .05,.1,.1,.1,.1,.15,.2,.2],
[-.02,-.02,-.02,-.02,-.05,-.05,-.05,-.05, -.05,-.05,-.05,-.05,-.05,-.05,-.05,-.05, -.05,-.02,-.02,-.02,-.1,-.3,-.1,-.2, -.3,-.05,.05,.05,.05,.05,.05,-.1],
[_,_,_,.05,.05,.05,.05,0, 0,0,0,0,0,.02,.02,.02, .02,.02,.02,.02,.02,.02,.02,.05, .05,.05,.1,.1,.1,.1,.1,.05],
[_,_,_,_,_,_,_,.15, .15,.15,.15,.15,.15,.2,.2,.15, .1,.1,.1,.1,.1,.1,.1,.1, .15,.15,.15,.2,.2,.2,.2,.1],
[_,_,_,_,_,_,_,_, _,_,_,_,.4,.4,.4,.3, .3,.2,.2,.2,.2,.2,.2,.2, .25,.3,.3,.3,.3,.3,.3,.25],
[_,_,_,_,_,_,_,_, _,_,_,_,_,.6,.6,_, _,_,_,_,_,_,_,_, _,.4,.4,.4,.4,.4,.4,_],
[_,_,_,_,_,_,_,_, _,_,_,_,_,.8,.8,_, _,_,_,_,_,_,_,_, _,_,_,_,_,_,_,_],
[_,_,_,_,_,_,_,_, _,_,_,_,_,.85,.85,_, _,_,_,_,_,_,_,_, _,_,_,_,_,.85,.85,_],
[_,_,_,_,_,_,_,_, _,_,_,_,_,.85,.85,_, _,_,_,_,_,_,_,_, _,_,_,_,_,.85,.85,_],
[_,_,_,_,_,_,_,_, _,_,_,_,_,_,_,_, _,_,_,_,_,_,_,_, _,_,_,_,_,.85,.85,.85],
[_,_,_,_,_,_,_,_, _,_,_,_,_,_,_,_, _,_,_,_,_,_,_,_, _,_,_,_,_,.85,.85,.85],
[_,_,_,_,_,_,_,_, _,_,_,_,_,_,_,_, _,_,_,_,_,_,_,_, _,_,_,_,_,.85,.85,_],
[_,_,_,_,_,_,_,_, _,_,_,_,_,_,_,_, _,_,_,_,_,_,_,_, _,_,_,_,_,_,_,_]
];

const years = [...yA,...yB,...yC,...yD,...yE,...yF].reverse();
const zValues = [...zA,...zB,...zC,...zD,...zE,...zF].reverse();
const n = levelColors.length;
const cs = levelColors.map((c,i)=>[(i+0.5)/n,c]);
const colorscale = [[0,levelColors[0]],...cs,[1,levelColors[n-1]]];
const contours = {start:-1,end:4.5,size:0.25,coloring:'fill',showlines:false};
const ink = '#262626';
const FONT = 'DejaVu Sans';
const L = 157, R = 993;

const main = {type:'contour',x:distance,y:years,z:zValues,zmin:-1,zmax:4.5,autocontour:false,
  contours,colorscale,connectgaps:false,line:{width:0},showscale:false,hoverinfo:'skip'};
// off-axis key trace: supplies the colour bar, with separators between the levels
const key = {type:'contour',x:[600,700],y:[2030,2031],z:[[-1,4.5],[-1,4.5]],zmin:-1,zmax:4.5,autocontour:false,
  contours:{start:-1,end:4.5,size:0.25,coloring:'fill',showlines:true},colorscale,line:{width:1,color:'#111'},hoverinfo:'skip',
  colorbar:{x:(1039-L)/(R-L),xanchor:'left',xref:'paper',xpad:0,ypad:0,y:0,yanchor:'bottom',len:1,lenmode:'fraction',thickness:27,thicknessmode:'pixels',
    outlinecolor:'#262626',outlinewidth:1,borderwidth:0,tickmode:'array',tickvals:barTicks,ticktext:barTicks.map(String),ticks:'',
    ticklabelposition:'outside',tickfont:{family:FONT,size:26,color:ink}}};

Plotly.newPlot('chart',[main,key],{
  width:1200,height:1575,paper_bgcolor:'#f0f0f0',plot_bgcolor:'#ffffff',showlegend:false,
  margin:{l:L,r:1200-R,t:118,b:178,pad:0},font:{family:FONT,color:ink},
  title:{text:'<b>'+titleText+'</b>',font:{family:FONT,size:37,color:'#000'},x:(L+R)/2/1200,xanchor:'center',y:1-86/1575,yanchor:'middle'},
  annotations:[{text:barLabel,xref:'paper',yref:'paper',x:(1148-L)/(R-L),y:0.5,xanchor:'center',yanchor:'middle',textangle:-90,showarrow:false,font:{family:FONT,size:30,color:ink}}],
  xaxis:{range:[490,0],tickmode:'array',tickvals:xTicks,ticks:'inside',ticklen:13,tickcolor:ink,tickwidth:1,showline:true,linecolor:ink,linewidth:1,mirror:'ticks',showgrid:false,zeroline:false,ticklabelstandoff:4,
    tickfont:{family:FONT,size:34,color:ink},title:{text:xLabel,font:{family:FONT,size:37,color:ink},standoff:11}},
  yaxis:{range:[2014.878,2026],tickmode:'array',tickvals:yTicks,tickformat:'d',ticks:'inside',ticklen:13,tickcolor:ink,tickwidth:1,showline:true,linecolor:ink,linewidth:1,mirror:'ticks',showgrid:false,zeroline:false,ticklabelstandoff:4,
    tickfont:{family:FONT,size:34,color:ink}}
},{displayModeBar:false,staticPlot:true});
</script></body></html>
